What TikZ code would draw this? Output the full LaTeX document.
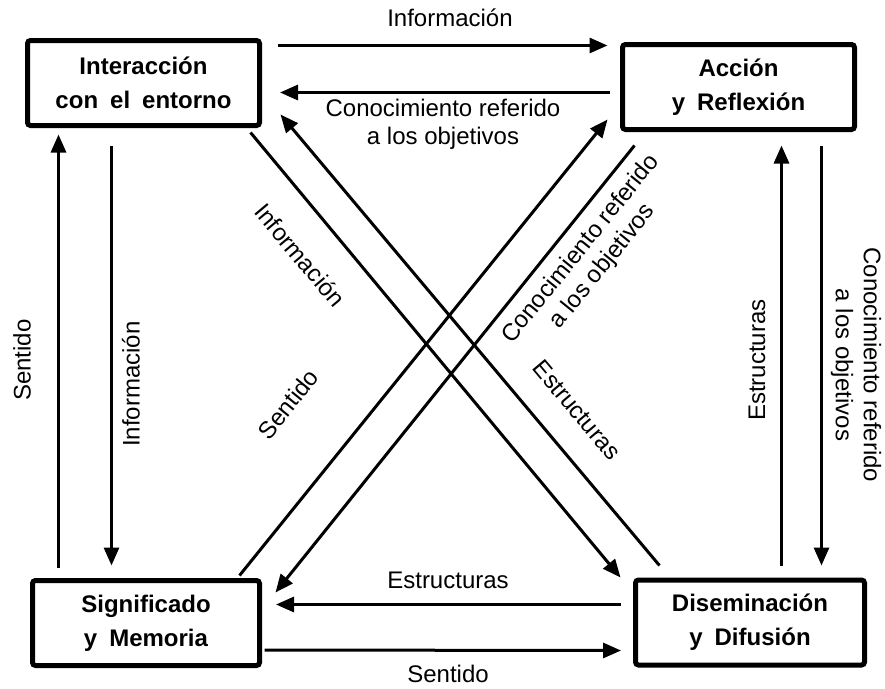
\documentclass[tikz,border=0pt]{standalone}
\usepackage{fontspec}
\setmainfont{Liberation Sans}
\usetikzlibrary{arrows.meta, calc}
\newcommand{\espacioancho}{\spaceskip=12pt plus 1pt minus 1pt\relax}

\begin{document}
\begin{tikzpicture}[x=1pt, y=-1pt,
  caja/.style={draw, line width=5pt, rounded corners=3pt, minimum width=232pt,
    minimum height=85pt, align=center, inner sep=0pt,
    font=\fontsize{24}{34}\selectfont\bfseries\espacioancho},
  flecha/.style={line width=3pt, -{Triangle[length=18pt, width=15pt]}},
  etiqueta/.style={font=\fontsize{24}{28}\selectfont, align=center, inner sep=0pt}]
  \useasboundingbox (0,0) rectangle (885,688);

  % cajas
  \node[caja] (interaccion) at (143.5,83) {Interacción\\con el entorno};
  \node[caja] (accion) at (738.5,87) {Acción\\y Reflexión};
  \node[caja, minimum width=227pt] (significado) at (146,623) {Significado\\y Memoria};
  \node[caja, minimum width=229pt] (diseminacion) at (750,622.5) {Diseminación\\y Difusión};

  % arriba y abajo
  \draw[flecha] ($(interaccion.north east)+(15.5,7.5)$) -- ($(accion.north west)+(-12.5,3.5)$);
  \draw[flecha] ($(accion.south west)+(-10,-39.5)$) -- ($(interaccion.south east)+(18,-35.5)$);
  \draw[flecha] ($(diseminacion.north west)+(-12,27)$) -- ($(significado.north east)+(14,26.5)$);
  \draw[flecha] ($(significado.south east)+(2.5,-18)$) -- ($(diseminacion.south west)+(-12,-17)$);

  % lados
  \draw[flecha] ($(significado.north west)+(28.5,-10.5)$) -- ($(interaccion.south west)+(33.5,6.5)$);
  \draw[flecha] ($(interaccion.south west)+(86.5,17.5)$) -- ($(significado.north west)+(81.5,-12.5)$);
  \draw[flecha] ($(diseminacion.north west)+(148.5,-12)$) -- ($(accion.south west)+(161.5,13.5)$);
  \draw[flecha] ($(accion.south west)+(201.5,13.5)$) -- ($(diseminacion.north west)+(188.5,-12)$);

  % diagonales
  \draw[flecha] ($(interaccion.south east)+(-11.5,4.5)$) -- ($(diseminacion.north west)+(-12.5,0)$);
  \draw[flecha] ($(diseminacion.north west)+(26.5,-12)$) -- ($(interaccion.south east)+(18.5,-13.5)$);
  \draw[flecha] ($(significado.north east)+(-22.5,-2.5)$) -- ($(accion.south west)+(-12.5,-12.5)$);
  \draw[flecha] ($(accion.south west)+(14.5,13.5)$) -- ($(significado.north east)+(13.5,14.5)$);

  % etiquetas
  \node[etiqueta] (infArriba) at (450,18) {Información};
  \node[etiqueta] (conArriba) at (443,124) {Conocimiento referido\\a los objetivos};
  \node[etiqueta] (estAbajo) at (448,580) {Estructuras};
  \node[etiqueta] (senAbajo) at (448,674) {Sentido};
  \node[etiqueta, rotate=90] (senIzq) at (22,360) {Sentido};
  \node[etiqueta, rotate=90] (infIzq) at (131,384) {Información};
  \node[etiqueta, rotate=90] (estDer) at (757,360) {Estructuras};
  \node[etiqueta, rotate=-90] (conDer) at (856,365) {Conocimiento referido\\a los objetivos};
  \node[etiqueta, rotate=-50] (infDiag) at (300,255) {Información};
  \node[etiqueta, rotate=-50] (estDiag) at (577,410) {Estructuras};
  \node[etiqueta, rotate=51] (senDiag) at (288,404) {Sentido};
  \node[etiqueta, rotate=51] (conDiag) at (592,258) {Conocimiento referido\\a los objetivos};
\end{tikzpicture}
\end{document}
